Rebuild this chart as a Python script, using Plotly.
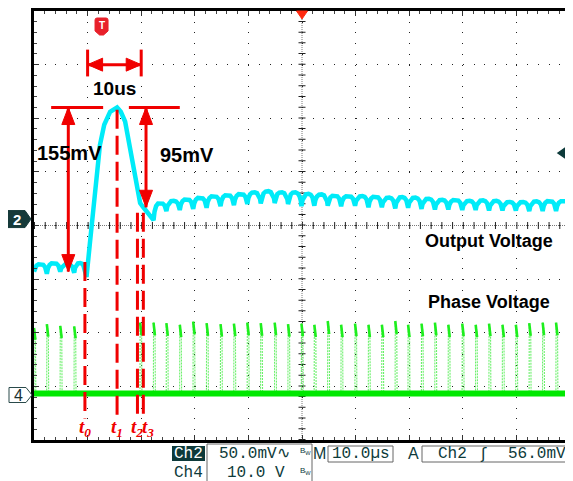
import plotly.graph_objects as go

# ---------------- data read from the scope capture ----------------
x_range_us = [0, 100]            # 10 us/div, 10 div
ch2_range_mv = [-200, 200]       # Ch2 50 mV/div, 8 div
ch4_range_v = [-8.39, 71.61]     # Ch4 10 V/div

# Ch4 phase voltage: switching instants (us) and pulse peaks (V)
ch4_spike_t = [0.0, 2.4, 4.9, 7.5, 19.8, 22.3, 24.7, 27.2, 29.7, 32.2, 34.8, 37.3,
               39.8, 42.3, 44.9, 47.4, 49.9, 52.3, 54.8, 57.3, 59.9, 62.4, 64.9, 67.4,
               69.8, 72.3, 74.8, 77.3, 79.9, 82.4, 84.9, 87.4, 89.9, 92.4, 94.9, 97.4]
ch4_spike_v = [12.5, 13.2, 12.9, 12.8, 13.5, 13.5, 13.4, 13.1, 13.7, 13.4, 13.2, 13.3,
               13.5, 13.4, 13.5, 13.2, 13.3, 13.1, 13.8, 13.1, 13.3, 13.1, 13.1, 13.8,
               13.1, 13.3, 13.5, 13.1, 13.3, 13.1, 13.3, 13.1, 13.1, 13.4, 13.5, 13.5]
ch4_base_t = [0, 100]
ch4_base_v = [0.3, 0.3]

# Ch2 output voltage before the load step (ripple cusps / arch peaks)
ch2_pre_cusp_t = [0.0, 2.4, 4.9, 7.5, 9.5]
ch2_pre_cusp_mv = [-43, -45, -43, -44, -43]
ch2_pre_peak_mv = [-36, -35, -36, -35]
# transient between t0 and t3
ch2_step_t = [9.8, 10.4, 11.0, 11.7, 12.3, 13.1, 14.2, 15.5, 16.2, 17.0, 17.9, 18.7,
              19.2, 19.8, 20.4, 21.2]
ch2_step_mv = [-48, -18, 10, 42, 75, 94, 106, 110, 106, 97, 72, 52,
               35, 21, 17, 12]
# ripple after the transient
ch2_rip_cusp_t = [22.3, 24.7, 27.2, 29.7, 32.2, 34.8, 37.3, 39.8, 42.3, 44.9, 47.4, 49.9,
                  52.3, 54.8, 57.3, 59.9, 62.4, 64.9, 67.4, 69.8, 72.3, 74.8, 77.3, 79.9,
                  82.4, 84.9, 87.4, 89.9, 92.4, 94.9, 97.4, 100.0]
ch2_rip_cusp_mv = [5, 13.5, 14.5, 15.5, 16.5, 18, 19, 20, 20.5, 21, 20, 18,
                   18.5, 18.5, 18, 18.5, 17, 17, 16, 16.5, 15.5, 15, 15, 14.5,
                   14.5, 14, 14, 14, 13.5, 13.5, 13.5, 19]
ch2_rip_peak_mv = [21, 23, 24.5, 26, 27.5, 28.5, 29.5, 31, 32, 31, 31, 29.5,
                   29, 28, 27.5, 27.5, 27, 26, 26.5, 26, 25, 24, 24, 23,
                   23.5, 23, 22, 22, 22.5, 23, 23]

# time markers
t_mark_sub = ["0", "1", "2", "3"]
t_mark_us = [9.5, 15.5, 19.3, 20.4]
t_mark_top_mv = [-34, 108, 12, 12]
t_mark_bottom_mv = -180
t_label_us = [9.5, 15.5, 19.2, 21.3]

# measurements
pre_mv, peak_mv, post_mv = -43, 110, 17
meas_10us = [10, 20]

# ---------------- styles / helpers ----------------
RED = "#f00000"
TEAL = "#0d3a3a"
CYAN = "rgb(0,235,248)"
GREEN = "rgb(0,232,0)"
ARCH_F = [0.0, 0.08, 0.2, 0.35, 0.55, 0.72, 0.86, 0.95]
ARCH_G = [0.0, 0.5, 0.82, 0.97, 1.0, 0.92, 0.7, 0.4]
# pulse outline (edges) and bright pulse top
PULSE_DT = [-0.03, 0.0, 0.06, 0.16, 0.28, 0.34]
PULSE_K = [0.0, 1.0, 0.9, 0.94, 0.86, 0.0]
TOP_DT = [0.0, 0.06, 0.16, 0.26]
TOP_K = [1.0, 0.92, 0.95, 0.82]


def ripple(ct, cm, pm):
    xs, ys = [], []
    for i in range(len(pm)):
        a, b = ct[i], ct[i + 1]
        for f, g in zip(ARCH_F, ARCH_G):
            base = cm[i] if f < 0.5 else cm[i + 1]
            xs.append(a + f * (b - a))
            ys.append(base + (pm[i] - base) * g)
    xs.append(ct[-1])
    ys.append(cm[-1])
    return xs, ys


# page pixel geometry of the plot area (page has an 8px body margin)
BODY = 8
px0, px1, py0, py1 = 34, 570, 11, 440
FIG_W, FIG_H = 573 - BODY, 481 - BODY


def PX(px):
    return (px - px0) / (px1 - px0)


def PY(py):
    return (py1 - py) / (py1 - py0)


# build Ch2 trace
x_a, y_a = ripple(ch2_pre_cusp_t, ch2_pre_cusp_mv, ch2_pre_peak_mv)
x_c, y_c = ripple(ch2_rip_cusp_t, ch2_rip_cusp_mv, ch2_rip_peak_mv)
ch2_x = x_a + ch2_step_t + x_c
ch2_y = y_a + ch2_step_mv + y_c

# build Ch4 traces
base = ch4_base_v[0]
ch4_x, ch4_y = [0.0], [base]
top_x, top_y = [], []
for t, h in zip(ch4_spike_t, ch4_spike_v):
    for dt, k in zip(PULSE_DT, PULSE_K):
        ch4_x.append(max(t + dt, 0.0))
        ch4_y.append(base + (h - base) * k)
    for dt, k in zip(TOP_DT, TOP_K):
        top_x.append(t + dt)
        top_y.append(base + (h - base) * k)
    top_x.append(None)
    top_y.append(None)
ch4_x.append(100.0)
ch4_y.append(base)

fig = go.Figure()
fig.add_trace(go.Scatter(x=ch4_x, y=ch4_y, yaxis="y2", mode="lines",
                         line=dict(color="rgba(60,235,60,0.75)", width=1.1, dash="2px,1px"),
                         hoverinfo="skip", showlegend=False))
fig.add_trace(go.Scatter(x=top_x, y=top_y, yaxis="y2", mode="lines",
                         line=dict(color="rgb(30,238,30)", width=2.6), hoverinfo="skip",
                         showlegend=False, connectgaps=False))
fig.add_trace(go.Scatter(x=ch4_base_t, y=ch4_base_v, yaxis="y2", mode="lines",
                         line=dict(color=GREEN, width=6), hoverinfo="skip", showlegend=False))
fig.add_trace(go.Scatter(x=ch2_x, y=ch2_y, mode="lines",
                         line=dict(color=CYAN, width=4.5), hoverinfo="skip", showlegend=False))

shapes = []
# centre graticule lines (dense dots + crossing ticks)
for kw in [dict(x0=0, x1=100, y0=0, y1=0), dict(x0=50, x1=50, y0=-200, y1=200)]:
    shapes.append(dict(type="line", xref="x", yref="y", layer="below",
                       line=dict(color="#777", width=1, dash="1px,1px"), **kw))
    shapes.append(dict(type="line", xref="x", yref="y", layer="below",
                       line=dict(color="#222", width=7, dash="1px,9.72px"), **kw))


def rline(x0, y0, x1, y1, dash=None):
    ln = dict(color=RED, width=3)
    if dash:
        ln["dash"] = dash
    shapes.append(dict(type="line", xref="x", yref="y", x0=x0, y0=y0, x1=x1, y1=y1, line=ln))


def head(x, y, d):
    paths = {"up": "M0,0 L-6.5,-17 L6.5,-17 Z", "down": "M0,0 L-6.5,17 L6.5,17 Z",
             "left": "M0,0 L15,6.5 L15,-6.5 Z", "right": "M0,0 L-15,6.5 L-15,-6.5 Z"}
    shapes.append(dict(type="path", xref="x", yref="y", xsizemode="pixel", ysizemode="pixel",
                       xanchor=x, yanchor=y, path=paths[d], fillcolor=RED,
                       line=dict(color=RED, width=1)))


# 10 us measurement
rline(meas_10us[0], 139, meas_10us[0], 164)
rline(meas_10us[1], 139, meas_10us[1], 164)
rline(meas_10us[0], 150, meas_10us[1], 150)
head(meas_10us[0], 150, "left")
head(meas_10us[1], 150, "right")
# peak reference lines
rline(3.2, peak_mv, 12.9, peak_mv)
rline(17.7, peak_mv, 27.2, peak_mv)
# 155 mV arrow
rline(6.4, peak_mv, 6.4, pre_mv)
head(6.4, peak_mv, "up")
head(6.4, pre_mv, "down")
# 95 mV arrow
rline(20.9, peak_mv, 20.9, post_mv)
head(20.9, peak_mv, "up")
head(20.9, post_mv, "down")
# dashed time markers
for t, top in zip(t_mark_us, t_mark_top_mv):
    rline(t, top, t, t_mark_bottom_mv, dash="19px,7px")

# channel / trigger markers
shapes.append(dict(type="path", xref="paper", yref="y", xsizemode="pixel", ysizemode="pixel",
                   xanchor=0, yanchor=6, path="M-26,8.5 L-9,8.5 L-3,0 L-9,-8.5 L-26,-8.5 Z",
                   fillcolor="#163a3a", line=dict(color="#163a3a", width=1)))
shapes.append(dict(type="path", xref="paper", yref="y2", xsizemode="pixel", ysizemode="pixel",
                   xanchor=0, yanchor=0, path="M-25,7.5 L-8,7.5 L-2,0 L-8,-7.5 L-25,-7.5 Z",
                   fillcolor="white", line=dict(color="#2a4a4a", width=1)))
shapes.append(dict(type="path", xref="paper", yref="y", xsizemode="pixel", ysizemode="pixel",
                   xanchor=1, yanchor=67.6, path="M-12,0 L-4,5.5 L-4,-5.5 Z M-4,0 L0,0",
                   fillcolor=TEAL, line=dict(color=TEAL, width=1.5)))
shapes.append(dict(type="path", xref="x", yref="paper", xsizemode="pixel", ysizemode="pixel",
                   xanchor=50, yanchor=1, path="M-5.5,0 L5.5,0 L0,-8 Z",
                   fillcolor="#ff2a10", line=dict(color="#ff2a10", width=1)))
shapes.append(dict(type="path", xref="x", yref="paper", xsizemode="pixel", ysizemode="pixel",
                   xanchor=12.6,
                   yanchor=1, path="M-6.5,-9 Q-6.5,-7 -4.5,-7 L4.5,-7 Q6.5,-7 6.5,-9 L6.5,-20 L2,-24 L-2,-24 L-6.5,-20 Z",
                   fillcolor="#e8202a", line=dict(color="#e8202a", width=1)))

# status bar boxes
GRAY = "#666"
shapes.append(dict(type="rect", xref="paper", yref="paper", x0=PX(172), x1=PX(205),
                   y0=PY(461), y1=PY(446), fillcolor=TEAL, line=dict(width=0)))
for (a, b) in [((207, 444), (312, 444)), ((207, 444), (207, 481)), ((312, 444), (312, 481))]:
    shapes.append(dict(type="line", xref="paper", yref="paper", x0=PX(a[0]), y0=PY(a[1]),
                       x1=PX(b[0]), y1=PY(b[1]), line=dict(color=GRAY, width=1)))
for (a, b) in [(328, 393), (422, 572)]:
    shapes.append(dict(type="rect", xref="paper", yref="paper", x0=PX(a), x1=PX(b),
                       y0=PY(462), y1=PY(446), line=dict(color=GRAY, width=1)))

ann = []


def txt(x, y, s, size=17, color="black", xref="x", yref="y", family="Liberation Sans",
        xanchor="center", **kw):
    ann.append(dict(x=x, y=y, xref=xref, yref=yref, text=s, showarrow=False,
                    xanchor=xanchor, yanchor="middle",
                    font=dict(family=family, size=size, color=color), **kw))


txt(15, 128, "<b>10us</b>", 19)
txt(6.6, 67.6, "<b>155mV</b>", 20)
txt(28.5, 65.8, "<b>95mV</b>", 20)
txt(84.9, -14.5, "<b>Output Voltage</b>", 18)
txt(84.9, -71.4, "<b>Phase Voltage</b>", 18)
for s, t in zip(t_mark_sub, t_label_us):
    txt(t, -189, "<b><i>t<sub>%s</sub></i></b>" % s, 19, RED, family="Liberation Serif")
# markers text
txt(0, 6, "<b>2</b>", 15, "white", xref="paper", xshift=-17)
txt(0, 0, "4", 16, "#1a3030", xref="paper", yref="y2", xshift=-16)
txt(12.6, 1, "<b>T</b>", 10, "white", yref="paper", yshift=-14)

# status bar text
MONO = "Liberation Mono"
r1, r2 = PY(453.5), PY(473)
txt(PX(188.5), r1, "Ch2", 16, "white", "paper", "paper", MONO)
txt(PX(217), r1, "50.0mV∿", 16, TEAL, "paper", "paper", MONO, xanchor="left")
txt(PX(305), PY(451), "B<sub>W</sub>", 8, TEAL, "paper", "paper")
txt(PX(319), r1, "M", 16, TEAL, "paper", "paper")
txt(PX(361), r1, "10.0µs", 16, TEAL, "paper", "paper", MONO)
txt(PX(413), r1, "A", 16, TEAL, "paper", "paper")
txt(PX(452), r1, "Ch2", 16, TEAL, "paper", "paper", MONO)
txt(PX(483), r1, "ʃ", 16, TEAL, "paper", "paper", "DejaVu Sans")
txt(PX(537), r1, "56.0mV", 16, TEAL, "paper", "paper", MONO)
txt(PX(188.5), r2, "Ch4", 16, TEAL, "paper", "paper", MONO)
txt(PX(225), r2, "10.0 V", 16, TEAL, "paper", "paper", MONO, xanchor="left")
txt(PX(305), PY(471), "B<sub>W</sub>", 8, TEAL, "paper", "paper")

axis_common = dict(showgrid=True, gridcolor="#222", gridwidth=1, griddash="1px,9.72px",
                   showline=True, linecolor="black", linewidth=3, mirror="ticks",
                   ticks="inside", ticklen=5, tickcolor="#333", tickwidth=1,
                   showticklabels=False, zeroline=False, fixedrange=True,
                   minor=dict(ticks="inside", ticklen=3, tickcolor="#444", showgrid=False))

fig.update_layout(
    width=FIG_W, height=FIG_H, autosize=False,
    margin=dict(l=px0 - BODY, r=FIG_W - (px1 - BODY), t=py0 - BODY, b=FIG_H - (py1 - BODY),
                autoexpand=False),
    paper_bgcolor="white", plot_bgcolor="white",
    xaxis=dict(range=x_range_us, dtick=10, tick0=0, **axis_common),
    yaxis=dict(range=ch2_range_mv, dtick=50, tick0=0, **axis_common),
    yaxis2=dict(range=ch4_range_v, overlaying="y", visible=False, fixedrange=True),
    shapes=shapes, annotations=ann, showlegend=False,
)
fig.update_xaxes(minor_dtick=2)
fig.layout.yaxis.minor.dtick = 10

fig.write_html("out.html")
